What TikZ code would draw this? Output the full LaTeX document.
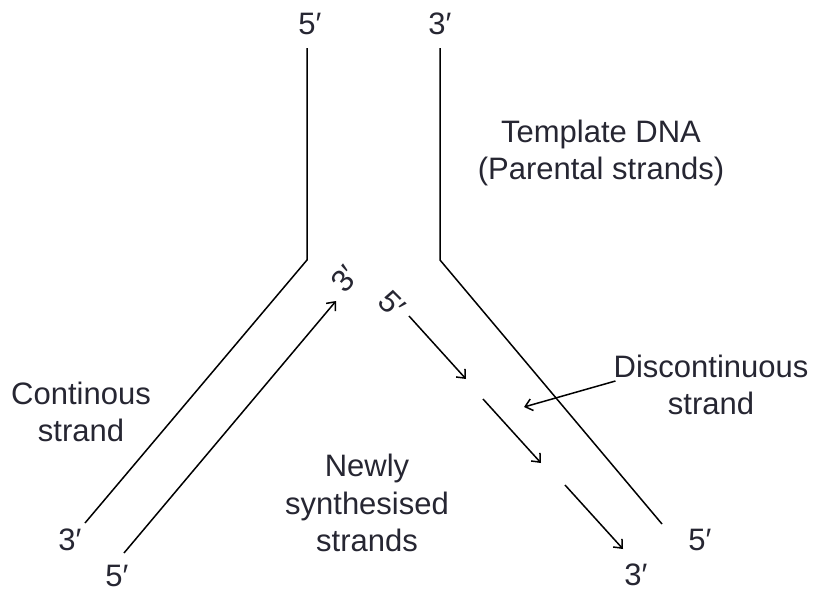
\documentclass[tikz,border=0pt]{standalone}
\usepackage{fontspec}
\setmainfont{Liberation Sans}
\usetikzlibrary{arrows.meta}
\definecolor{txt}{RGB}{38,38,50}
\begin{document}
\begin{tikzpicture}[x=1pt,y=-1pt,
  strandline/.style={line width=1.5pt,black},
  arr/.style={line width=1.5pt,black,-{Straight Barb[length=7pt,width=12pt,line width=1.5pt]}},
  lbl/.style={text=txt,font=\fontsize{31}{37.5}\selectfont,inner sep=0pt,align=center},
  endlbl/.style={text=txt,font=\fontsize{31}{37}\selectfont,inner sep=0pt}]
\useasboundingbox (0,0) rectangle (814,589);
% parental strands
\coordinate (lt) at (307,48);
\coordinate (lc) at (307,260);
\coordinate (lb) at (85,523);
\coordinate (rt) at (440,48);
\coordinate (rc) at (440,260);
\coordinate (rb) at (662,524);
\draw[strandline] (lt) -- (lc) -- (lb);
\draw[strandline] (rt) -- (rc) -- (rb);
% leading strand
\coordinate (ls) at (124,553);
\coordinate (le) at (336,301);
\draw[arr] (ls) -- (le);
% lagging fragments
\coordinate (f1s) at (409,316);
\coordinate (f1e) at (466,379);
\coordinate (f2s) at (483,399);
\coordinate (f2e) at (541,463);
\coordinate (f3s) at (565,485);
\coordinate (f3e) at (623,549);
\draw[arr] (f1s) -- (f1e);
\draw[arr] (f2s) -- (f2e);
\draw[arr] (f3s) -- (f3e);
% end labels
\node[endlbl] (t5) at (310,24) {5′};
\node[endlbl] (t3) at (440,24) {3′};
\node[endlbl] (bl3) at (70,540) {3′};
\node[endlbl] (bl5) at (117,576) {5′};
\node[endlbl] (br5) at (700,540) {5′};
\node[endlbl] (br3) at (636,575) {3′};
\node[endlbl,rotate=50] (m3) at (345,279) {3′};
\node[endlbl,rotate=-45] (m5) at (392,304) {5′};
% text labels
\node[lbl] (tmpl) at (601,153) {Template DNA\\(Parental strands)};
\node[lbl] (cont) at (81,412) {Continous\\strand};
\node[lbl] (disc) at (711,385) {Discontinuous\\strand};
\node[lbl] (newly) at (367,503) {Newly\\synthesised\\strands};
\coordinate (pt) at (524,407);
\draw[arr] (disc.west) ++(2,-4) coordinate (ps) -- (pt);
\end{tikzpicture}
\end{document}
